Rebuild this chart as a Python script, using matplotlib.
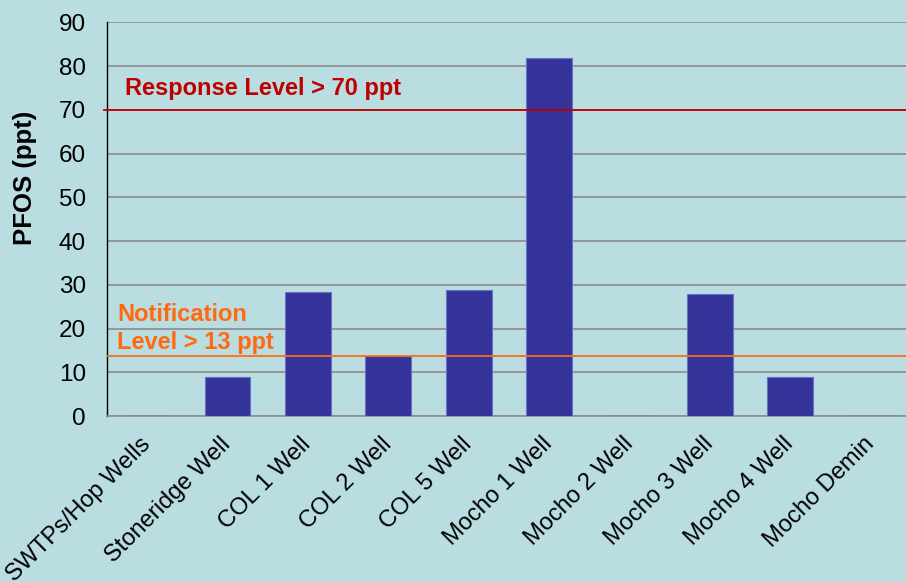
import matplotlib
matplotlib.use("Agg")
import matplotlib.pyplot as plt

categories = ["SWTPs/Hop Wells", "Stoneridge Well", "COL 1 Well", "COL 2 Well",
              "COL 5 Well", "Mocho 1 Well", "Mocho 2 Well", "Mocho 3 Well",
              "Mocho 4 Well", "Mocho Demin"]
pfos = [0, 8.9, 28.4, 13.7, 28.8, 81.9, 0, 27.9, 9.0, 0]
response_level = 70
notification_level = 13.7
yticks = [0, 10, 20, 30, 40, 50, 60, 70, 80, 90]

plt.rcParams['font.family'] = ['Liberation Sans', 'DejaVu Sans']
bg = '#B9DDE1'
fig = plt.figure(figsize=(9.06, 5.82), dpi=100, facecolor=bg)
ax = fig.add_axes([0.118, 0.2852, 0.8875, 0.6765], facecolor=bg)

x = list(range(len(categories)))
ax.bar(x, pfos, width=0.57, color='#333399', edgecolor='#6A6FC8', linewidth=0.8, zorder=3)

ax.set_xlim(-0.5, len(categories) - 0.5)
ax.set_ylim(0, 90)
ax.set_yticks(yticks)
ax.yaxis.grid(True, color='#8C8C8C', linewidth=1.2, zorder=0)
ax.set_axisbelow(True)

ax.axhline(response_level, color='#C00000', linewidth=1.3, zorder=4, xmin=-0.003, clip_on=False)
ax.axhline(notification_level, color='#FF6A10', linewidth=1.3, zorder=4)

ax.text(0.022, 0.831, 'Response Level > 70 ppt', transform=ax.transAxes,
        color='#C00000', fontsize=17, fontweight='bold', va='center', ha='left')
ax.text(0.013, 0.222, 'Notification\nLevel > 13 ppt', transform=ax.transAxes,
        color='#FF6A10', fontsize=17, fontweight='bold', va='center', ha='left',
        linespacing=1.25)

for s in ['top', 'right']:
    ax.spines[s].set_visible(False)
ax.spines['left'].set_color('black')
ax.spines['left'].set_linewidth(1.0)
ax.spines['bottom'].set_color('#8C8C8C')
ax.spines['bottom'].set_linewidth(1.2)

ax.tick_params(axis='both', length=0)
ax.tick_params(axis='y', labelsize=17.5, pad=15)
ax.set_xticks(x)
ax.set_xticklabels(categories, rotation=45, ha='right', va='center',
                   rotation_mode='anchor', fontsize=17)
ax.tick_params(axis='x', pad=18)

fig.text(25 / 906, 1 - 178 / 582, 'PFOS (ppt)', rotation=90, fontsize=18.5,
         fontweight='bold', ha='center', va='center')

fig.savefig('out.png', dpi=100, facecolor=bg)
